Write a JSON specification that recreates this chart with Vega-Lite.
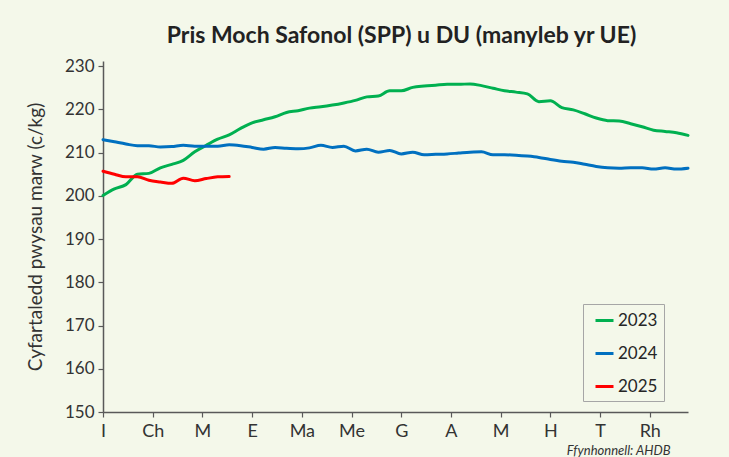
{
  "$schema": "https://vega.github.io/schema/vega-lite/v6.json",
  "autosize": {"type": "none"},
  "width": 585,
  "height": 351,
  "padding": {"left": 103, "top": 61, "right": 41, "bottom": 45},
  "background": "#f4f8ea",
  "title": {
    "text": "Pris Moch Safonol (SPP) u DU (manyleb yr UE)",
    "font": "Lato",
    "fontSize": 23,
    "fontWeight": "bold",
    "color": "#222222",
    "anchor": "middle",
    "dx": 6,
    "offset": 9
  },
  "config": {
    "view": {"stroke": null},
    "font": "Lato"
  },
  "data": {
    "values": [
      {"year": "2023", "week": 1, "price": 200.1},
      {"year": "2023", "week": 2, "price": 201.6},
      {"year": "2023", "week": 3, "price": 202.6},
      {"year": "2023", "week": 4, "price": 205.0},
      {"year": "2023", "week": 5, "price": 205.2},
      {"year": "2023", "week": 6, "price": 206.5},
      {"year": "2023", "week": 7, "price": 207.3},
      {"year": "2023", "week": 8, "price": 208.2},
      {"year": "2023", "week": 9, "price": 210.2},
      {"year": "2023", "week": 10, "price": 211.7},
      {"year": "2023", "week": 11, "price": 213.1},
      {"year": "2023", "week": 12, "price": 214.1},
      {"year": "2023", "week": 13, "price": 215.6},
      {"year": "2023", "week": 14, "price": 216.9},
      {"year": "2023", "week": 15, "price": 217.6},
      {"year": "2023", "week": 16, "price": 218.3},
      {"year": "2023", "week": 17, "price": 219.3},
      {"year": "2023", "week": 18, "price": 219.7},
      {"year": "2023", "week": 19, "price": 220.3},
      {"year": "2023", "week": 20, "price": 220.6},
      {"year": "2023", "week": 21, "price": 221.0},
      {"year": "2023", "week": 22, "price": 221.5},
      {"year": "2023", "week": 23, "price": 222.1},
      {"year": "2023", "week": 24, "price": 222.9},
      {"year": "2023", "week": 25, "price": 223.1},
      {"year": "2023", "week": 26, "price": 224.3},
      {"year": "2023", "week": 27, "price": 224.3},
      {"year": "2023", "week": 28, "price": 225.1},
      {"year": "2023", "week": 29, "price": 225.4},
      {"year": "2023", "week": 30, "price": 225.6},
      {"year": "2023", "week": 31, "price": 225.8},
      {"year": "2023", "week": 32, "price": 225.8},
      {"year": "2023", "week": 33, "price": 225.9},
      {"year": "2023", "week": 34, "price": 225.5},
      {"year": "2023", "week": 35, "price": 224.9},
      {"year": "2023", "week": 36, "price": 224.3},
      {"year": "2023", "week": 37, "price": 224.0},
      {"year": "2023", "week": 38, "price": 223.6},
      {"year": "2023", "week": 39, "price": 221.8},
      {"year": "2023", "week": 40, "price": 222.0},
      {"year": "2023", "week": 41, "price": 220.4},
      {"year": "2023", "week": 42, "price": 219.9},
      {"year": "2023", "week": 43, "price": 219.0},
      {"year": "2023", "week": 44, "price": 218.0},
      {"year": "2023", "week": 45, "price": 217.4},
      {"year": "2023", "week": 46, "price": 217.3},
      {"year": "2023", "week": 47, "price": 216.7},
      {"year": "2023", "week": 48, "price": 216.0},
      {"year": "2023", "week": 49, "price": 215.2},
      {"year": "2023", "week": 50, "price": 214.9},
      {"year": "2023", "week": 51, "price": 214.6},
      {"year": "2023", "week": 52, "price": 214.0},
      {"year": "2024", "week": 1, "price": 213.0},
      {"year": "2024", "week": 2, "price": 212.5},
      {"year": "2024", "week": 3, "price": 212.0},
      {"year": "2024", "week": 4, "price": 211.6},
      {"year": "2024", "week": 5, "price": 211.6},
      {"year": "2024", "week": 6, "price": 211.3},
      {"year": "2024", "week": 7, "price": 211.4},
      {"year": "2024", "week": 8, "price": 211.7},
      {"year": "2024", "week": 9, "price": 211.5},
      {"year": "2024", "week": 10, "price": 211.5},
      {"year": "2024", "week": 11, "price": 211.5},
      {"year": "2024", "week": 12, "price": 211.8},
      {"year": "2024", "week": 13, "price": 211.6},
      {"year": "2024", "week": 14, "price": 211.2},
      {"year": "2024", "week": 15, "price": 210.8},
      {"year": "2024", "week": 16, "price": 211.2},
      {"year": "2024", "week": 17, "price": 211.0},
      {"year": "2024", "week": 18, "price": 210.9},
      {"year": "2024", "week": 19, "price": 211.1},
      {"year": "2024", "week": 20, "price": 211.7},
      {"year": "2024", "week": 21, "price": 211.2},
      {"year": "2024", "week": 22, "price": 211.5},
      {"year": "2024", "week": 23, "price": 210.4},
      {"year": "2024", "week": 24, "price": 210.8},
      {"year": "2024", "week": 25, "price": 210.1},
      {"year": "2024", "week": 26, "price": 210.5},
      {"year": "2024", "week": 27, "price": 209.7},
      {"year": "2024", "week": 28, "price": 210.1},
      {"year": "2024", "week": 29, "price": 209.5},
      {"year": "2024", "week": 30, "price": 209.6},
      {"year": "2024", "week": 31, "price": 209.7},
      {"year": "2024", "week": 32, "price": 209.9},
      {"year": "2024", "week": 33, "price": 210.1},
      {"year": "2024", "week": 34, "price": 210.2},
      {"year": "2024", "week": 35, "price": 209.5},
      {"year": "2024", "week": 36, "price": 209.5},
      {"year": "2024", "week": 37, "price": 209.4},
      {"year": "2024", "week": 38, "price": 209.2},
      {"year": "2024", "week": 39, "price": 208.9},
      {"year": "2024", "week": 40, "price": 208.4},
      {"year": "2024", "week": 41, "price": 208.0},
      {"year": "2024", "week": 42, "price": 207.8},
      {"year": "2024", "week": 43, "price": 207.3},
      {"year": "2024", "week": 44, "price": 206.8},
      {"year": "2024", "week": 45, "price": 206.5},
      {"year": "2024", "week": 46, "price": 206.4},
      {"year": "2024", "week": 47, "price": 206.5},
      {"year": "2024", "week": 48, "price": 206.5},
      {"year": "2024", "week": 49, "price": 206.2},
      {"year": "2024", "week": 50, "price": 206.5},
      {"year": "2024", "week": 51, "price": 206.2},
      {"year": "2024", "week": 52, "price": 206.4},
      {"year": "2025", "week": 1, "price": 205.7},
      {"year": "2025", "week": 2, "price": 205.0},
      {"year": "2025", "week": 3, "price": 204.4},
      {"year": "2025", "week": 4, "price": 204.4},
      {"year": "2025", "week": 5, "price": 203.6},
      {"year": "2025", "week": 6, "price": 203.2},
      {"year": "2025", "week": 7, "price": 202.9},
      {"year": "2025", "week": 8, "price": 204.1},
      {"year": "2025", "week": 9, "price": 203.5},
      {"year": "2025", "week": 10, "price": 204.0},
      {"year": "2025", "week": 11, "price": 204.4},
      {"year": "2025", "week": 12, "price": 204.5}
    ]
  },
  "mark": {"type": "line", "interpolate": "monotone", "strokeCap": "round", "strokeJoin": "round"},
  "encoding": {
    "x": {
      "field": "week",
      "type": "quantitative",
      "scale": {"domain": [1, 52], "nice": false, "zero": false},
      "axis": {
        "values": [1, 5.3333, 9.6667, 14, 18.3333, 22.6667, 27, 31.3333, 35.6667, 40, 44.3333, 48.6667],
        "labelExpr": "['I','Ch','M','E','Ma','Me','G','A','M','H','T','Rh'][round((datum.value - 1) * 12 / 52)]",
        "grid": false,
        "domainColor": "#595959",
        "domainWidth": 1.5,
        "tickColor": "#595959",
        "tickWidth": 1.2,
        "tickSize": 5,
        "labelFontSize": 18,
        "labelColor": "#333333",
        "labelPadding": 5,
        "labelFlush": false,
        "labelOverlap": false,
        "title": "Ffynhonnell: AHDB",
        "titleFontStyle": "italic",
        "titleFontWeight": "normal",
        "titleFontSize": 13,
        "titleColor": "#333333",
        "titleAlign": "right",
        "titleAnchor": null,
        "titleX": 567,
        "titleY": 42,
        "titleBaseline": "alphabetic"
      }
    },
    "y": {
      "field": "price",
      "type": "quantitative",
      "scale": {"domain": [150, 231.2], "nice": false, "zero": false},
      "axis": {
        "values": [150, 160, 170, 180, 190, 200, 210, 220, 230],
        "grid": false,
        "domainColor": "#595959",
        "domainWidth": 1.5,
        "tickColor": "#595959",
        "tickWidth": 1.2,
        "tickSize": 5,
        "labelFontSize": 17,
        "labelColor": "#333333",
        "labelPadding": 4,
        "title": "Cyfartaledd pwysau marw (c/kg)",
        "titleFontSize": 19,
        "titleFontWeight": "normal",
        "titleColor": "#333333",
        "titlePadding": 19
      }
    },
    "color": {
      "field": "year",
      "type": "nominal",
      "scale": {"domain": ["2023", "2024", "2025"], "range": ["#00b050", "#0070c0", "#ff0000"]},
      "legend": {
        "title": null,
        "orient": "none",
        "legendX": 480,
        "legendY": 243,
        "padding": 6,
        "strokeColor": "#a6a6a6",
        "fillColor": "#f4f8ea",
        "symbolType": "stroke",
        "symbolSize": 324,
        "symbolStrokeWidth": 3,
        "symbolOffset": 5,
        "labelFontSize": 17,
        "labelColor": "#262626",
        "labelOffset": 3,
        "rowPadding": 14,
        "labelExpr": "datum.label + '\u00a0\u00a0\u00a0\u00a0\u00a0\u00a0'"
      }
    },
    "strokeWidth": {
      "field": "year",
      "type": "nominal",
      "scale": {"domain": ["2023", "2024", "2025"], "range": [3, 3, 4.5]},
      "legend": null
    }
  }
}
